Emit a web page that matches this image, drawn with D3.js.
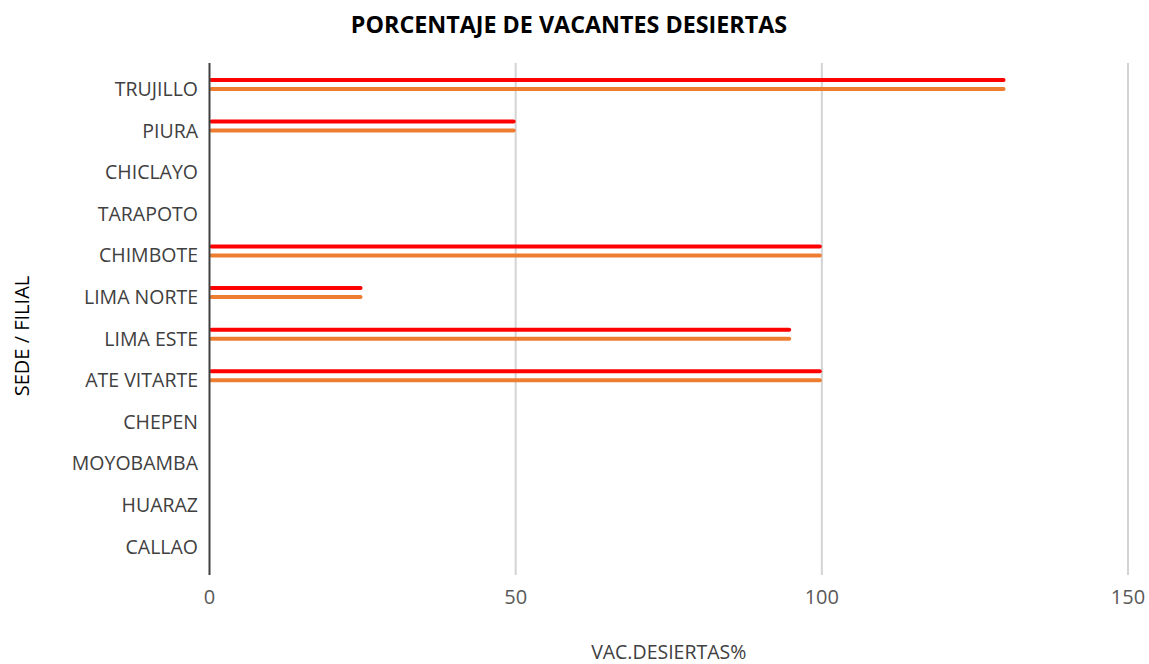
<!DOCTYPE html>
<html>
<head>
<meta charset="utf-8">
<script src="https://cdn.jsdelivr.net/npm/d3@7"></script>
<style>
  html, body { margin: 0; padding: 0; background: #fff; }
  svg { display: block; font-family: "Open Sans", "Segoe UI", sans-serif; }
</style>
</head>
<body>
<svg id="chart" width="1149" height="664"></svg>
<script>
const categories = ["TRUJILLO","PIURA","CHICLAYO","TARAPOTO","CHIMBOTE","LIMA NORTE","LIMA ESTE","ATE VITARTE","CHEPEN","MOYOBAMBA","HUARAZ","CALLAO"];
const series1 = [130, 50, 0, 0, 100, 25, 95, 100, 0, 0, 0, 0];
const series2 = [130, 50, 0, 0, 100, 25, 95, 100, 0, 0, 0, 0];
const xTicks = [0, 50, 100, 150];
const seriesNames = ["S1", "S2", "S3"];
const titleText = "PORCENTAJE DE VACANTES DESIERTAS";
const xTitle = "VAC.DESIERTAS%";
const yTitle = "SEDE / FILIAL";

const svg = d3.select("#chart");
const plot = {left: 209.5, right: 1128, top: 63, bottom: 575};

const x = d3.scaleLinear().domain([0, 150]).range([plot.left, plot.right]);
const y = d3.scaleBand().domain(categories).range([68.2, 567.5]).paddingInner(0).paddingOuter(0);
const sub = d3.scaleBand().domain(seriesNames).range([-13.5, 13.5]);

// gridlines
svg.append("g").selectAll("line").data(xTicks.filter(t => t !== 0)).join("line")
  .attr("x1", d => x(d)).attr("x2", d => x(d))
  .attr("y1", plot.top).attr("y2", plot.bottom)
  .attr("stroke", "#d3d3d3").attr("stroke-width", 2);

// bars
const colors = {S1: "#ff0000", S2: "#ed7d31"};
const data = [
  {name: "S1", values: series1},
  {name: "S2", values: series2}
];
data.forEach(s => {
  svg.append("g").selectAll("line").data(categories.map((c, i) => ({c, v: s.values[i]})).filter(d => d.v > 0)).join("line")
    .attr("x1", x(0) + 2).attr("x2", d => x(d.v) - 2)
    .attr("y1", d => y(d.c) + y.bandwidth() / 2 + sub(s.name) + sub.bandwidth() / 2)
    .attr("y2", d => y(d.c) + y.bandwidth() / 2 + sub(s.name) + sub.bandwidth() / 2)
    .attr("stroke", colors[s.name]).attr("stroke-width", 4).attr("stroke-linecap", "round");
});

// zero axis line
svg.append("line")
  .attr("x1", x(0)).attr("x2", x(0))
  .attr("y1", plot.top).attr("y2", plot.bottom)
  .attr("stroke", "#404040").attr("stroke-width", 2);

// category labels
svg.append("g").selectAll("text").data(categories).join("text")
  .attr("x", 198)
  .attr("y", d => y(d) + y.bandwidth() / 2)
  .attr("dy", "0.36em")
  .attr("text-anchor", "end")
  .attr("font-size", 19.5)
  .attr("fill", "#404040")
  .text(d => d);

// x tick labels
svg.append("g").selectAll("text").data(xTicks).join("text")
  .attr("x", d => x(d))
  .attr("y", 604)
  .attr("text-anchor", "middle")
  .attr("font-size", 20)
  .attr("fill", "#595959")
  .text(d => d);

// title
svg.append("text")
  .attr("x", 569).attr("y", 33)
  .attr("text-anchor", "middle")
  .attr("font-size", 23.3).attr("font-weight", "bold")
  .attr("fill", "#000")
  .text(titleText);

// axis titles
svg.append("text")
  .attr("x", (plot.left + plot.right) / 2).attr("y", 659)
  .attr("text-anchor", "middle")
  .attr("font-size", 19.5).attr("fill", "#404040")
  .text(xTitle);

svg.append("text")
  .attr("transform", "translate(29,336) rotate(-90)")
  .attr("text-anchor", "middle")
  .attr("font-size", 20).attr("fill", "#000")
  .text(yTitle);
</script>
</body>
</html>
